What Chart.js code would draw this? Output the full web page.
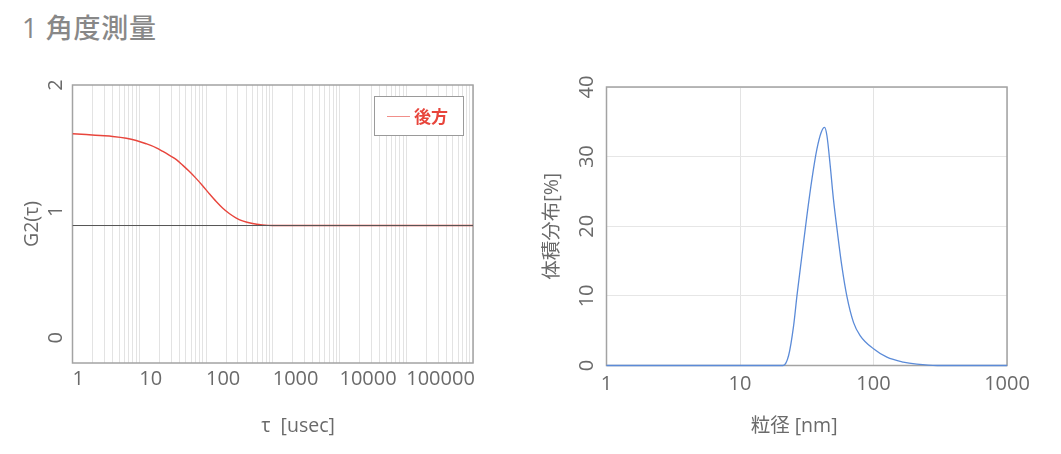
<!DOCTYPE html>
<html lang="ja">
<head>
<meta charset="utf-8">
<script src="https://cdn.jsdelivr.net/npm/chart.js@4.4.1/dist/chart.umd.min.js"></script>
<style>
  body { margin: 0; width: 1061px; height: 454px; background: #fff; position: relative; overflow: hidden; }
  h1 { position: absolute; left: 22px; top: 14px; margin: 0; font-family: "Open Sans", "Noto Sans CJK JP", sans-serif;
       font-size: 27px; line-height: 27px; font-weight: 500; color: #888888; letter-spacing: 0.7px; }
  .box { position: absolute; top: 60px; height: 394px; }
  #leftBox { left: 0; width: 510px; }
  #rightBox { left: 520px; width: 541px; }
</style>
</head>
<body>
<h1>1 角度測量</h1>
<div class="box" id="leftBox"><canvas id="g2Chart"></canvas></div>
<div class="box" id="rightBox"><canvas id="sizeChart"></canvas></div>
<script>
// G2 correlation curve (left)
const tauValues = [1, 1.6, 2.6, 4, 6.4, 9, 12.7, 18, 22.6, 28, 36, 45, 56, 71, 89, 112, 141, 177, 223, 280, 352, 497, 702, 990, 1000000];
const g2Values = [1.614, 1.608, 1.600, 1.593, 1.579, 1.561, 1.535, 1.503, 1.474, 1.445, 1.409, 1.364, 1.317, 1.261, 1.203, 1.140, 1.080, 1.027, 0.983, 0.949, 0.925, 0.904, 0.893, 0.888, 0.888];
const g2Baseline = 0.888;
const tauDecades = [1, 10, 100, 1000, 10000, 100000, 1000000];
const tauTickLabels = ['1', '10', '100', '1000', '10000', '100000'];
const g2Ticks = [0, 1, 2];

// volume distribution (right)
const sizeValues = [1, 21, 23.1, 25.2, 26.7, 29.1, 31.7, 34.6, 37.7, 40.6, 43, 44.8, 47.4, 50.1, 53.7, 57.9, 63.1, 70.8, 79.4, 100, 126, 167, 211, 300, 1000];
const volumeValues = [0, 0, 1.4, 5.7, 10, 15.8, 21.5, 26.8, 31.1, 33.5, 34.2, 33.0, 28.7, 23.9, 19.1, 14.3, 10, 6.2, 4.3, 2.4, 1.2, 0.5, 0.2, 0, 0];
const sizeTicks = [1, 10, 100, 1000];
const volumeTicks = [0, 10, 20, 30, 40];

const FONT = '"Open Sans", "Noto Sans CJK JP", sans-serif';
const TEXT = '#6a6a6a';

// draws the gray box around the plot area
const frame = {
  id: 'frame',
  beforeDatasetsDraw(chart) {
    const a = chart.chartArea, ctx = chart.ctx;
    ctx.save();
    ctx.strokeStyle = '#a3a3a3';
    ctx.lineWidth = 1.5;
    ctx.strokeRect(a.left, a.top, a.right - a.left, a.bottom - a.top);
    ctx.restore();
  }
};

// legend box inside the top-right corner
const boxLegend = {
  id: 'boxLegend',
  afterDraw(chart) {
    const ds = chart.data.datasets.find(d => d.label);
    const a = chart.chartArea, ctx = chart.ctx;
    const w = 89, h = 39;
    const x0 = a.right - 10 - w, y0 = a.top + 11;
    ctx.save();
    ctx.fillStyle = '#fff';
    ctx.fillRect(x0, y0, w, h);
    ctx.strokeStyle = '#9a9a9a';
    ctx.lineWidth = 1;
    ctx.strokeRect(x0 + 0.5, y0 + 0.5, w, h);
    ctx.strokeStyle = ds.borderColor;
    ctx.globalAlpha = 0.6;
    ctx.beginPath();
    ctx.moveTo(x0 + 13, y0 + h / 2 + 1);
    ctx.lineTo(x0 + 36, y0 + h / 2 + 1);
    ctx.stroke();
    ctx.globalAlpha = 1;
    ctx.fillStyle = ds.borderColor;
    ctx.font = 'bold 17px "Noto Sans CJK JP", sans-serif';
    ctx.textBaseline = 'middle';
    ctx.fillText(ds.label, x0 + 40, y0 + h / 2 + 1);
    ctx.restore();
  }
};

document.addEventListener('DOMContentLoaded', function() {
  // Chart 1: G2(tau)
  new Chart(document.getElementById('g2Chart'), {
    type: 'line',
    data: {
      datasets: [{
        label: '',
        data: [{x: tauDecades[0], y: g2Baseline}, {x: tauDecades[tauDecades.length - 1], y: g2Baseline}],
        borderColor: '#555555',
        borderWidth: 1,
        pointRadius: 0
      }, {
        label: '後方',
        data: tauValues.map((t, i) => ({x: t, y: g2Values[i]})),
        borderColor: '#e8453c',
        borderWidth: 1.4,
        pointRadius: 0,
        cubicInterpolationMode: 'monotone'
      }]
    },
    options: {
      responsive: true,
      maintainAspectRatio: false,
      animation: false,
      layout: { padding: { left: 23, right: 37, top: 25, bottom: 18 } },
      plugins: { legend: { display: false }, tooltip: { enabled: false } },
      scales: {
        x: {
          type: 'logarithmic',
          min: 1,
          max: 1000000,
          afterBuildTicks: function(axis) {
            const ticks = [];
            tauDecades.forEach(function(d, i) {
              if (i === tauDecades.length - 1) { ticks.push({value: d}); return; }
              for (let k = 1; k < 10; k++) ticks.push({value: d * k});
            });
            axis.ticks = ticks;
          },
          ticks: {
            autoSkip: false,
            maxRotation: 0,
            align: 'start',
            padding: 6.5,
            color: TEXT,
            font: { family: FONT, size: 20, lineHeight: 1 },
            callback: function(v) {
              const i = tauDecades.indexOf(v);
              return i >= 0 && i < tauTickLabels.length ? tauTickLabels[i] : '';
            }
          },
          grid: { color: '#e3e3e3', drawTicks: false },
          border: { display: false },
          title: {
            display: true,
            text: '          τ  [usec]',
            color: TEXT,
            font: { family: FONT, size: 19.5, lineHeight: 1 },
            padding: { top: 20.5, bottom: 0 }
          }
        },
        y: {
          min: -0.2,
          max: 2,
          afterBuildTicks: function(axis) { axis.ticks = g2Ticks.map(v => ({value: v})); },
          ticks: {
            minRotation: 90,
            maxRotation: 90,
            crossAlign: 'center',
            padding: 10,
            color: TEXT,
            font: { family: FONT, size: 20, lineHeight: 0.5 }
          },
          grid: { display: false, drawTicks: false },
          border: { display: false },
          title: {
            display: true,
            text: 'G2(τ)',
            color: TEXT,
            font: { family: FONT, size: 19.5, lineHeight: 1 },
            padding: { top: 0, bottom: 0 }
          }
        }
      }
    },
    plugins: [frame, boxLegend]
  });

  // Chart 2: volume distribution
  new Chart(document.getElementById('sizeChart'), {
    type: 'line',
    data: {
      datasets: [{
        label: '体積分布',
        data: sizeValues.map((s, i) => ({x: s, y: volumeValues[i]})),
        borderColor: '#5b8bd8',
        borderWidth: 1.3,
        pointRadius: 0,
        cubicInterpolationMode: 'monotone',
        clip: 4
      }]
    },
    options: {
      responsive: true,
      maintainAspectRatio: false,
      animation: false,
      layout: { padding: { left: 23, right: 54, top: 27, bottom: 18 } },
      plugins: { legend: { display: false }, tooltip: { enabled: false } },
      scales: {
        x: {
          type: 'logarithmic',
          min: 1,
          max: 1000,
          afterBuildTicks: function(axis) { axis.ticks = sizeTicks.map(v => ({value: v})); },
          ticks: {
            autoSkip: false,
            maxRotation: 0,
            padding: 9,
            color: TEXT,
            font: { family: FONT, size: 20, lineHeight: 1 },
            callback: v => String(v)
          },
          grid: { color: '#e3e3e3', drawTicks: false },
          border: { display: false },
          title: {
            display: true,
            text: '粒径 [nm]     ',
            color: TEXT,
            font: { family: FONT, size: 19.5, lineHeight: 1 },
            padding: { top: 13, bottom: 0 }
          }
        },
        y: {
          min: 0,
          max: 40,
          afterBuildTicks: function(axis) { axis.ticks = volumeTicks.map(v => ({value: v})); },
          ticks: {
            minRotation: 90,
            maxRotation: 90,
            crossAlign: 'center',
            padding: 8,
            color: TEXT,
            font: { family: FONT, size: 20, lineHeight: 0.6 }
          },
          grid: { color: '#e6e6e6', drawTicks: false },
          border: { display: false },
          title: {
            display: true,
            text: '体積分布[%]',
            color: TEXT,
            font: { family: FONT, size: 19.5, lineHeight: 1 },
            padding: { top: 0, bottom: 16 }
          }
        }
      }
    },
    plugins: [frame]
  });
});
</script>
</body>
</html>
